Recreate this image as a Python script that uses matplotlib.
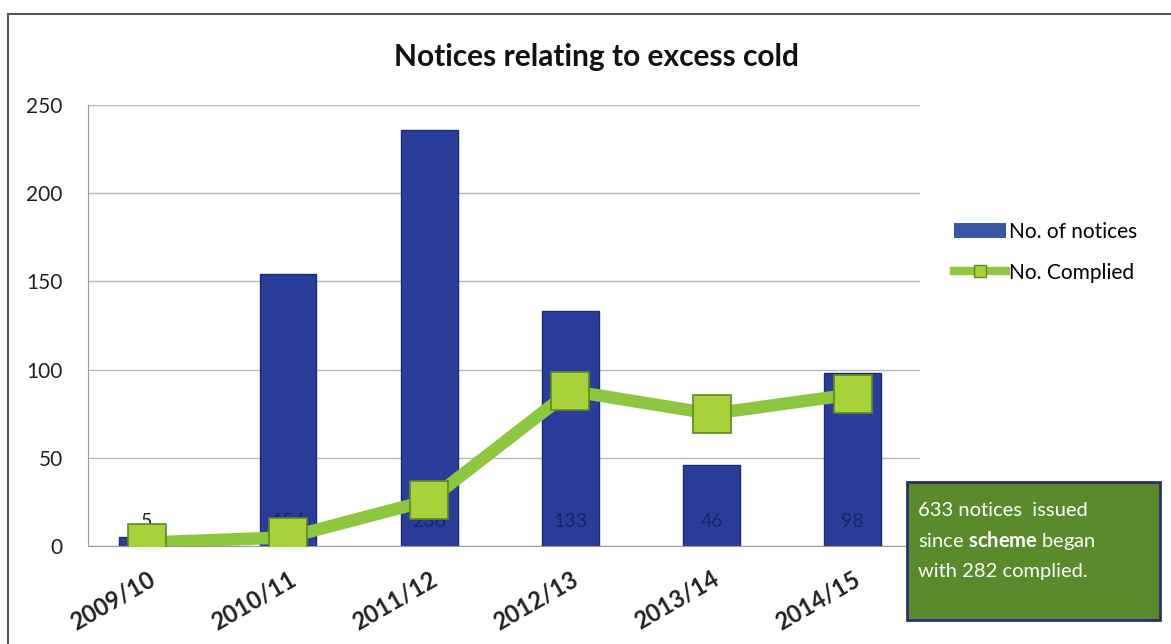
import matplotlib
matplotlib.use("Agg")
import matplotlib.pyplot as plt
import numpy as np
from matplotlib.patches import Rectangle
from matplotlib.lines import Line2D

categories = ["2009/10", "2010/11", "2011/12", "2012/13", "2013/14", "2014/15"]
notices = [5, 154, 236, 133, 46, 98]
complied = [2, 5, 26, 88, 75, 86]
bar_labels = ["5", "154", "236", "133", "46", "98"]
title = "Notices relating to excess cold"

plt.rcParams['font.family'] = ['Lato', 'DejaVu Sans']
plt.rcParams['mathtext.fontset'] = 'custom'
plt.rcParams['mathtext.rm'] = 'Lato'
plt.rcParams['mathtext.bf'] = 'Lato:bold'

fig = plt.figure(figsize=(11.71, 6.44), dpi=100)
ax = fig.add_axes([0.075, 0.152, 0.711, 0.685])

x = np.arange(len(categories))
ax.bar(x, notices, width=0.4, color="#2b3d9b", edgecolor="#1c2a78", linewidth=1, zorder=2)
ax.plot(x, complied, color="#8dc63f", linewidth=9, zorder=3, solid_capstyle="round")
ax.plot(x, complied, linestyle="none", marker="s", markersize=27, markerfacecolor="#a9d13a",
        markeredgecolor="#5f8a1e", markeredgewidth=1.2, zorder=4)

for xi, lab, v in zip(x, bar_labels, notices):
    ax.text(xi, 14, lab, ha="center", va="center", fontsize=14,
            color="#1a2466" if v > 20 else "#222222", zorder=3.5)

ax.set_xlim(-0.42, 5.48)
ax.set_ylim(0, 250)
ax.set_yticks([0, 50, 100, 150, 200, 250])
ax.yaxis.grid(True, color="#b8b8b8", linewidth=1)
ax.set_axisbelow(True)
for s in ["top", "right"]:
    ax.spines[s].set_visible(False)
ax.spines["left"].set_color("#9a9a9a")
ax.spines["bottom"].set_color("#9a9a9a")
ax.tick_params(axis="y", length=0, labelsize=15, pad=18, colors="#222222")
ax.tick_params(axis="x", length=0, pad=15)
ax.set_xticks(x)
ax.set_xticklabels(categories, rotation=30, fontsize=17, fontweight="bold",
                   ha="right", rotation_mode="anchor", color="#222222")
for lab in ax.get_xticklabels():
    lab.set_x(lab.get_position()[0] + 0.1)

fig.text(597/1171, 1 - 57/644, title, ha="center", va="center", fontsize=21.5, fontweight="bold", color="#111111")

# legend
handles = [Rectangle((0, 0), 1, 1, facecolor="#3a56a8", edgecolor="none"),
           Line2D([0], [0], color="#8dc63f", linewidth=6, marker="s", markersize=9,
                  markerfacecolor="#a9d13a", markeredgecolor="#5f8a1e")]
fig.legend(handles, ["No. of notices", "No. Complied"], loc="upper left",
           bbox_to_anchor=(935/1171, 1 - 203/644), frameon=False, fontsize=15,
           handlelength=2.5, handletextpad=0.15, labelspacing=1.0)

# annotation box
box = Rectangle((907/1171, 1 - 620/644), 253/1171, 138/644, transform=fig.transFigure,
                facecolor="#5a8a2b", edgecolor="#2a2f6e", linewidth=2, zorder=5)
fig.patches.append(box)
fig.text(918/1171, 1 - 510/644, "633 notices  issued", fontsize=14.5, color="white", zorder=6, va="center")
fig.text(918/1171, 1 - 541/644, "since $\\bf{scheme}$ began", fontsize=14.5, color="white", zorder=6, va="center")
fig.text(918/1171, 1 - 572/644, "with 282 complied.", fontsize=14.5, color="white", zorder=6, va="center")

# outer frame lines
fig.add_artist(Line2D([8/1171, 8/1171], [0, 1 - 14/644], transform=fig.transFigure, color="#555555", linewidth=1.5))
fig.add_artist(Line2D([8/1171, 1], [1 - 14/644, 1 - 14/644], transform=fig.transFigure, color="#555555", linewidth=1.5))

fig.savefig("out.png", dpi=100)
